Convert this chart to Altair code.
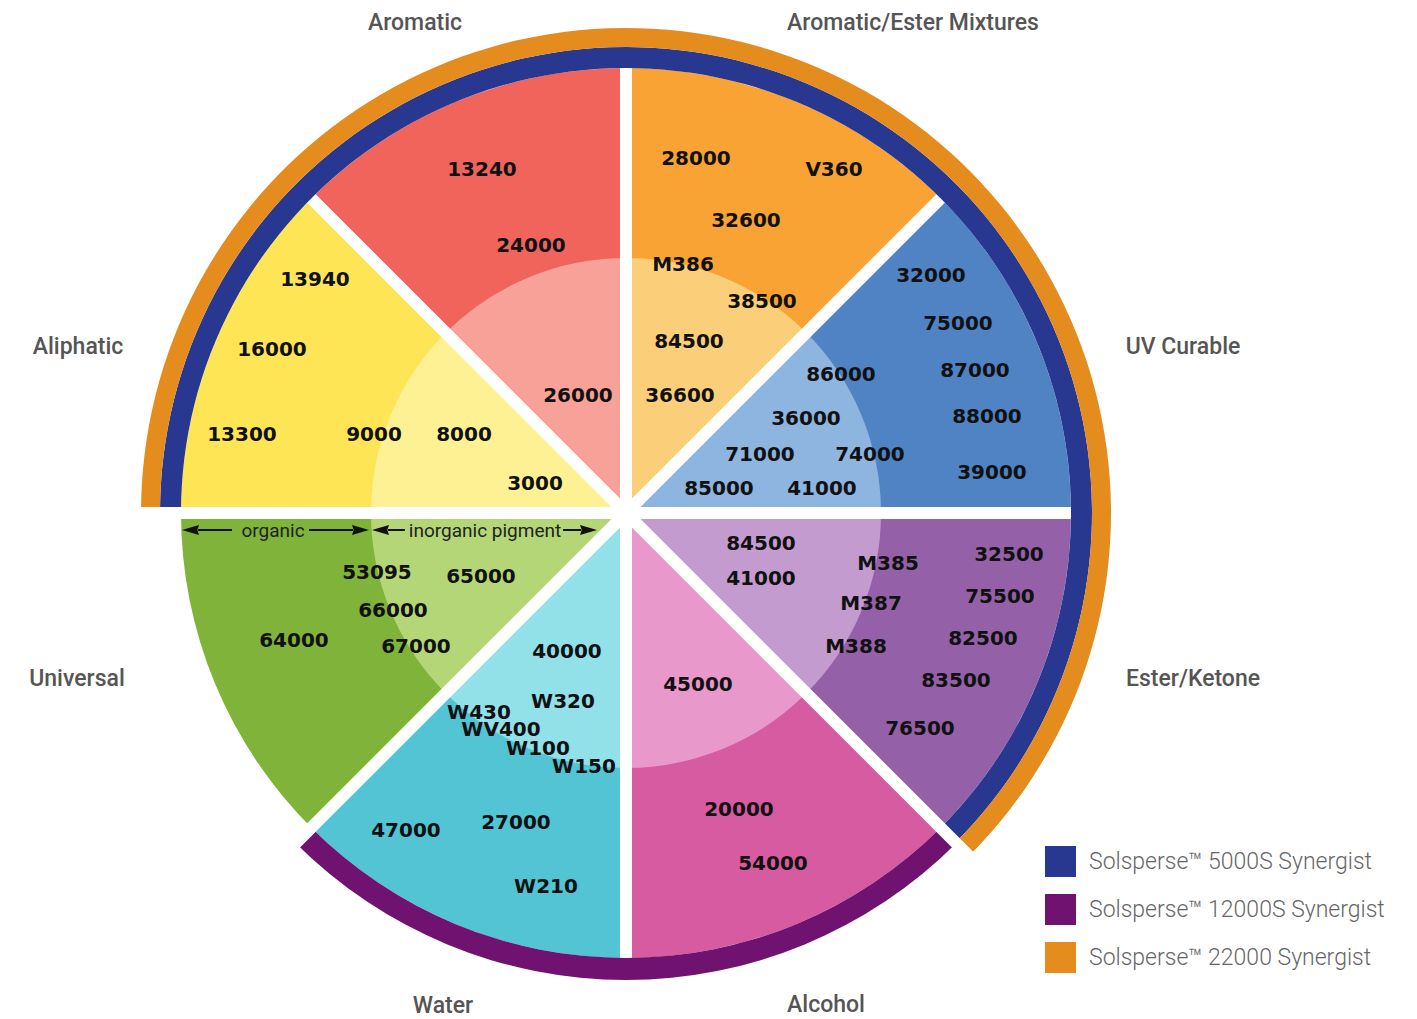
import math
import altair as alt
import pandas as pd

# ---------------- data ----------------
categories = ["Aromatic/Ester Mixtures", "UV Curable", "Ester/Ketone", "Alcohol",
              "Water", "Universal", "Aliphatic", "Aromatic"]
sector_start = [0, 45, 90, 135, 180, 225, 270, 315]
sector_end = [45, 90, 135, 180, 225, 270, 315, 360]
dark_colors = ["#F8A334", "#4F83C4", "#9461A8", "#D75BA0",
               "#53C4D4", "#80B33A", "#FEE556", "#F0645C"]
light_colors = ["#FBCE79", "#8EB4E0", "#C39BCF", "#E998CB",
                "#92E0E8", "#B4D677", "#FEF193", "#F7A198"]

ring_names = ["Solsperse\u2122 5000S Synergist", "Solsperse\u2122 12000S Synergist",
              "Solsperse\u2122 22000 Synergist"]
ring_colors = ["#283891", "#701370", "#E48C1E"]
ring_start = [-90, 135, -90]
ring_end = [135, 225, 135]
ring_level = [0, 0, 1]          # 0 = first ring outside the pie, 1 = second ring

# grade labels inside the sectors
num_text = ["13240", "24000", "26000",
            "28000", "V360", "32600", "M386", "38500", "84500", "36600",
            "32000", "75000", "87000", "86000", "88000", "36000", "71000", "74000",
            "39000", "85000", "41000",
            "84500", "41000", "M385", "32500", "M387", "75500", "M388", "82500",
            "83500", "76500",
            "45000", "20000", "54000",
            "40000", "W320", "W430", "WV400", "W100", "W150", "47000", "27000", "W210",
            "53095", "65000", "66000", "64000", "67000",
            "13940", "16000", "13300", "9000", "8000", "3000"]
num_x = [482, 531, 578,
         696, 834, 746, 683, 762, 689, 680,
         931, 958, 975, 841, 987, 806, 760, 870, 992, 719, 822,
         761, 761, 888, 1009, 871, 1000, 856, 983, 956, 920,
         698, 739, 773,
         567, 563, 479, 501, 538, 584, 406, 516, 546,
         377, 481, 393, 294, 416,
         315, 272, 242, 374, 464, 535]
num_y = [169, 245, 395,
         158, 169, 220, 264, 301, 341, 395,
         275, 323, 370, 374, 416, 418, 454, 454, 472, 488, 488,
         543, 578, 563, 554, 603, 596, 646, 638, 680, 728,
         684, 809, 863,
         651, 701, 712, 729, 748, 766, 830, 822, 886,
         572, 576, 610, 640, 646,
         279, 349, 434, 434, 434, 483]

cat_label_x = [913, 1183, 1193, 826, 443, 77, 78, 415]
cat_label_y = [22, 346, 678, 1004, 1005, 678, 346, 22]

# ---------------- geometry / style ----------------
W, H = 1400, 1011
CX, CY = 626, 513
R_OUT, R_IN = 445, 255
RING_W = [21, 19]
GAP = 12

xs = alt.Scale(domain=[8, 8 + W], range=[0, W], nice=False, zero=False)
ys = alt.Scale(domain=[8, 8 + H], range=[0, H], nice=False, zero=False)
ts = alt.Scale(domain=[0, 360], range=[0, 2 * math.pi])
rs = alt.Scale(type="linear", domain=[0, 500], range=[0, 500], zero=True, nice=False)


def cx():
    return alt.XDatum(CX, type="quantitative", scale=xs, axis=None)


def cy():
    return alt.YDatum(CY, type="quantitative", scale=ys, axis=None)


def X(f):
    return alt.X(f, type="quantitative", scale=xs, axis=None)


def Y(f):
    return alt.Y(f, type="quantitative", scale=ys, axis=None)


# sectors
sect = pd.DataFrame({
    "cat": categories * 2,
    "t0": sector_start * 2,
    "t1": sector_end * 2,
    "r0": [0] * 16,
    "r1": [R_OUT] * 8 + [R_IN] * 8,
    "fill": dark_colors + light_colors,
    "part": ["organic"] * 8 + ["inorganic"] * 8,
})

sectors = alt.Chart(sect).mark_arc().encode(
    x=cx(), y=cy(),
    theta=alt.Theta("t0:Q", scale=ts, stack=None),
    theta2="t1:Q",
    radius=alt.Radius("r1:Q", scale=rs),
    radius2="r0:Q",
    fill=alt.Fill("fill:N", scale=None),
    order=alt.Order("r1:Q", sort="descending"),
)

# white gaps between sectors
ray_angles = [0, 45, 90, 135, 180, 225, 270, 315]
rays_df = pd.DataFrame({"ang": ray_angles, "r0": [0] * 8, "r1": [R_OUT + 3] * 8})
cut_df = pd.DataFrame({"ang": [135, 225, 270], "r0": [R_OUT - 2] * 3, "r1": [500] * 3})


def ray_layer(df):
    return alt.Chart(df).transform_calculate(
        xa=f"{CX} + datum.r0 * sin(datum.ang * PI / 180)",
        ya=f"{CY} - datum.r0 * cos(datum.ang * PI / 180)",
        xb=f"{CX} + datum.r1 * sin(datum.ang * PI / 180)",
        yb=f"{CY} - datum.r1 * cos(datum.ang * PI / 180)",
    ).mark_rule(color="white", strokeWidth=GAP, strokeCap="butt").encode(
        x=X("xa"), y=Y("ya"), x2="xb:Q", y2="yb:Q"
    )


rays = ray_layer(rays_df)
cuts = ray_layer(cut_df)

# synergist rings
ring_df = pd.DataFrame({
    "ring": ring_names,
    "t0": ring_start,
    "t1": ring_end,
    "r0": [R_OUT + sum(RING_W[:lv]) for lv in ring_level],
    "r1": [R_OUT + sum(RING_W[:lv + 1]) for lv in ring_level],
})
ring_df.loc[1, "r1"] = R_OUT + 22

rings = alt.Chart(ring_df).mark_arc().encode(
    x=cx(), y=cy(),
    theta=alt.Theta("t0:Q", scale=ts, stack=None),
    theta2="t1:Q",
    radius=alt.Radius("r1:Q", scale=rs),
    radius2="r0:Q",
    color=alt.Color(
        "ring:N",
        scale=alt.Scale(domain=ring_names, range=ring_colors),
        legend=alt.Legend(
            orient="none", legendX=1037, legendY=838, title=None,
            symbolType="square", symbolSize=961, symbolStrokeWidth=0, symbolOpacity=1,
            labelFont="Roboto", labelFontSize=23, labelFontWeight=300,
            labelColor="#666666", labelLimit=600, labelOffset=13,
            rowPadding=17, padding=0,
        ),
    ),
)

# organic / inorganic arrows in the Universal sector
ARROW_Y = 530
arrow_lines = pd.DataFrame({"x1": [198, 309, 388, 563], "x2": [232, 353, 405, 581],
                            "y": [ARROW_Y] * 4})
lines = alt.Chart(arrow_lines).mark_rule(color="#111111", strokeWidth=2).encode(
    x=X("x1"), x2="x2:Q", y=Y("y")
)
left_heads = alt.Chart(pd.DataFrame({"x": [190.5, 380.5], "y": [ARROW_Y] * 2})).mark_point(
    shape="M-1,0L1,-0.58L0.8,0L1,0.58Z", size=289, filled=True, color="#111111",
    opacity=1, strokeWidth=0
).encode(x=X("x"), y=Y("y"))
right_heads = alt.Chart(pd.DataFrame({"x": [360.5, 588.5], "y": [ARROW_Y] * 2})).mark_point(
    shape="M1,0L-1,-0.58L-0.8,0L-1,0.58Z", size=289, filled=True, color="#111111",
    opacity=1, strokeWidth=0
).encode(x=X("x"), y=Y("y"))
arrow_text = alt.Chart(pd.DataFrame({"t": ["organic", "inorganic pigment"],
                                     "x": [273, 485], "y": [ARROW_Y] * 2})).mark_text(
    font="Roboto", fontSize=19, color="#222222", align="center", baseline="middle", dy=1
).encode(x=X("x"), y=Y("y"), text="t:N")

# grade numbers
nums = alt.Chart(pd.DataFrame({"t": num_text, "x": num_x, "y": num_y})).mark_text(
    font="DejaVu Sans", fontWeight="bold", fontSize=20, color="#111111",
    align="center", baseline="middle", dy=1
).encode(x=X("x"), y=Y("y"), text="t:N")

# category labels
cats = alt.Chart(pd.DataFrame({"t": categories, "x": cat_label_x, "y": cat_label_y})).mark_text(
    font="Roboto", fontWeight=500, fontSize=23, color="#555555",
    align="center", baseline="middle", dy=1
).encode(x=X("x"), y=Y("y"), text="t:N")

chart = alt.layer(
    sectors, rays, rings, cuts, lines, left_heads, right_heads, arrow_text, nums, cats
).properties(
    width=W, height=H, autosize="none", padding=0
).configure_view(stroke=None)

chart.save("out.html", embed_options={"renderer": "svg", "actions": False})
